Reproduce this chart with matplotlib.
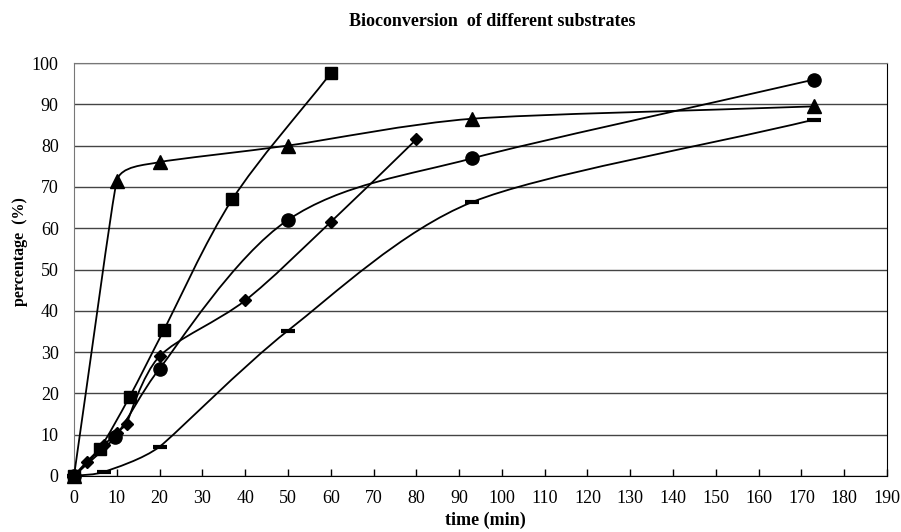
import matplotlib

matplotlib.use("Agg")
import matplotlib.pyplot as plt
import numpy as np
from matplotlib.path import Path
from matplotlib.patches import PathPatch

plt.rcParams["font.family"] = ["Liberation Serif", "DejaVu Serif"]

# series (time in min, conversion in %)
tri_t = [0, 10, 20, 50, 93, 173]
tri_v = [0, 71.5, 76, 80, 86.5, 89.5]

sq_t = [0, 6, 13, 21, 37, 60]
sq_v = [0, 6.6, 19.2, 35.3, 67, 97.5]

circ_t = [0, 9.6, 20, 50, 93, 173]
circ_v = [0, 9.5, 26, 62, 76.9, 96]

dia_t = [0, 3, 7, 10, 12.3, 20, 40, 60, 80]
dia_v = [0, 3.5, 7.5, 10.5, 12.7, 29, 42.5, 61.5, 81.5]

dash_t = [0, 7, 20, 50, 93, 173]
dash_v = [0, 1.0, 7.1, 35.2, 66.3, 86.3]

x_ticks = list(range(0, 191, 10))
y_ticks = list(range(0, 101, 10))


def smooth_path(ax, xs, ys, k=0.5):
    # smoothed line like a spreadsheet chart: cubic Bezier, tangent from
    # neighbours, handle length capped by the shorter adjacent segment (pixels)
    pts = ax.transData.transform(np.column_stack([xs, ys]).astype(float))
    n = len(pts)
    segs = [np.hypot(*(pts[i + 1] - pts[i])) for i in range(n - 1)]
    tangents = []
    for i in range(n):
        d = pts[min(i + 1, n - 1)] - pts[max(i - 1, 0)]
        tangents.append(d / np.hypot(*d))
    verts = [pts[0]]
    codes = [Path.MOVETO]
    for i in range(n - 1):
        p1, p2 = pts[i], pts[i + 1]
        h1 = min(segs[i], segs[i - 1]) if i > 0 else segs[i]
        h2 = min(segs[i], segs[i + 1]) if i + 1 < n - 1 else segs[i]
        c1 = p1 + tangents[i] * h1 * k / 1.5
        c2 = p2 - tangents[i + 1] * h2 * k / 1.5
        verts.extend([c1, c2, p2])
        codes.extend([Path.CURVE4] * 3)
    verts = ax.transData.inverted().transform(np.array(verts))
    return Path(verts, codes)


fig = plt.figure(figsize=(9.01, 5.32), dpi=100)
ax = fig.add_axes([74 / 901, 56 / 532, (887 - 74) / 901, (476 - 63) / 532])
ax.set_xlim(0, 190)
ax.set_ylim(0, 100)

series = [
    (tri_t, tri_v, dict(marker="^", markersize=9.5)),
    (sq_t, sq_v, dict(marker="s", markersize=8.5)),
    (circ_t, circ_v, dict(marker="o", markersize=9.5)),
    (dia_t, dia_v, dict(marker="D", markersize=6)),
    (dash_t, dash_v, dict(marker="_", markersize=10, markeredgewidth=3)),
]

for t, v, style in series:
    ax.add_patch(PathPatch(smooth_path(ax, t, v), facecolor="none", edgecolor="black",
                           linewidth=1.3, zorder=3))
    ax.plot(t, v, linestyle="none", color="black", zorder=4, clip_on=False, **style)

ax.set_xticks(x_ticks)
ax.set_yticks(y_ticks)
ax.tick_params(axis="x", direction="in", length=5, width=1, labelsize=13, pad=10)
ax.tick_params(axis="y", length=0, labelsize=13, pad=11)
ax.yaxis.grid(True, color="#444444", linewidth=1.0)
ax.set_axisbelow(True)

for side in ["left", "top"]:
    ax.spines[side].set_color("#777777")
ax.spines["bottom"].set_color("black")
ax.spines["right"].set_color("black")

fig.text(485 / 901, 1 - 520 / 532, "time (min)", ha="center", va="center",
         fontsize=13, fontweight="bold")
fig.text(20 / 901, 1 - 252 / 532, "percentage  (%)", ha="center", va="center",
         rotation=90, fontsize=11.5, fontweight="bold")
fig.text(492 / 901, 1 - 22 / 532, "Bioconversion  of different substrates",
         ha="center", va="center", fontsize=13, fontweight="bold")

fig.savefig("out.png", dpi=100)
